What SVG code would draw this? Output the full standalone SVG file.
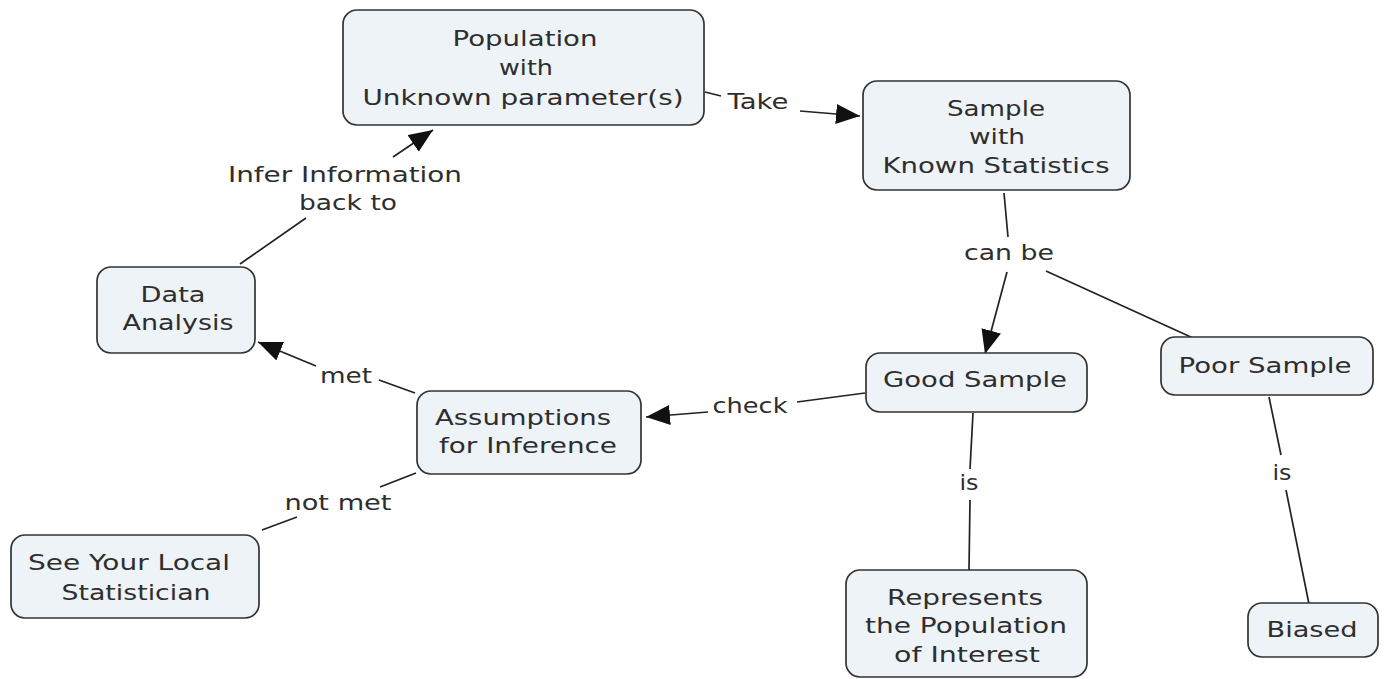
<svg xmlns="http://www.w3.org/2000/svg" width="1386" height="679" viewBox="0 0 1386 679">
<style>
.box{fill:#eef3f7;stroke:#333;stroke-width:1.7}
.t{font-family:"DejaVu Sans","Liberation Sans",sans-serif;font-size:22px;fill:#2e2e2e;text-anchor:middle}
.c{stroke:#222;stroke-width:1.7;fill:none}
.a{marker-end:url(#arr)}
</style>
<defs>
<marker id="arr" markerUnits="userSpaceOnUse" markerWidth="24" markerHeight="20" refX="24" refY="10" orient="auto" viewBox="0 0 24 20">
<path d="M0,0 L24,10 L0,20 z" fill="#111"/>
</marker>
</defs>
<rect width="1386" height="679" fill="#fff"/>
<g id="connectors">
<line class="c" x1="705" y1="92" x2="721" y2="96"/>
<line class="c a" x1="800" y1="111" x2="860" y2="116"/>
<line class="c" x1="1004" y1="193" x2="1008" y2="237"/>
<line class="c a" x1="1007" y1="272" x2="985" y2="354"/>
<line class="c" x1="1046" y1="271" x2="1193" y2="338"/>
<line class="c" x1="865" y1="393" x2="797" y2="402"/>
<line class="c a" x1="708" y1="412" x2="646" y2="417"/>
<line class="c" x1="973" y1="413" x2="970" y2="469"/>
<line class="c" x1="970" y1="500" x2="969" y2="570"/>
<line class="c" x1="1269" y1="397" x2="1281" y2="455"/>
<line class="c" x1="1286" y1="490" x2="1309" y2="604"/>
<line class="c" x1="415" y1="393" x2="379" y2="380"/>
<line class="c a" x1="316" y1="366" x2="258" y2="342"/>
<line class="c" x1="416" y1="473" x2="380" y2="487"/>
<line class="c" x1="297" y1="517" x2="262" y2="530"/>
<line class="c" x1="240" y1="264" x2="306" y2="218"/>
<line class="c a" x1="393" y1="157" x2="433" y2="130"/>
<text class="t" x="758" y="109" textLength="61" lengthAdjust="spacingAndGlyphs">Take</text>
<text class="t" x="1009" y="260" textLength="90" lengthAdjust="spacingAndGlyphs">can be</text>
<text class="t" x="750" y="413" textLength="75" lengthAdjust="spacingAndGlyphs">check</text>
<text class="t" x="969" y="490" textLength="19" lengthAdjust="spacingAndGlyphs">is</text>
<text class="t" x="1282" y="480" textLength="19" lengthAdjust="spacingAndGlyphs">is</text>
<text class="t" x="346" y="383" textLength="52" lengthAdjust="spacingAndGlyphs">met</text>
<text class="t" x="338" y="510" textLength="107" lengthAdjust="spacingAndGlyphs">not met</text>
<text class="t" x="345" y="182" textLength="234" lengthAdjust="spacingAndGlyphs">Infer Information</text>
<text class="t" x="348" y="210" textLength="98" lengthAdjust="spacingAndGlyphs">back to</text>
</g>
<g id="population">
<rect class="box" x="343" y="10" width="361" height="115" rx="14"/>
<text class="t" x="525" y="46" textLength="145" lengthAdjust="spacingAndGlyphs">Population</text>
<text class="t" x="526" y="75" textLength="54" lengthAdjust="spacingAndGlyphs">with</text>
<text class="t" x="523" y="105" textLength="321" lengthAdjust="spacingAndGlyphs">Unknown parameter(s)</text>
</g>
<g id="sample">
<rect class="box" x="863" y="81" width="267" height="109" rx="14"/>
<text class="t" x="996" y="116" textLength="98" lengthAdjust="spacingAndGlyphs">Sample</text>
<text class="t" x="997" y="144" textLength="56" lengthAdjust="spacingAndGlyphs">with</text>
<text class="t" x="996" y="173" textLength="227" lengthAdjust="spacingAndGlyphs">Known Statistics</text>
</g>
<g id="data-analysis">
<rect class="box" x="97" y="267" width="158" height="86" rx="14"/>
<text class="t" x="173" y="302" textLength="65" lengthAdjust="spacingAndGlyphs">Data</text>
<text class="t" x="178" y="330" textLength="111" lengthAdjust="spacingAndGlyphs">Analysis</text>
</g>
<g id="assumptions">
<rect class="box" x="417" y="391" width="224" height="83" rx="14"/>
<text class="t" x="523" y="425" textLength="176" lengthAdjust="spacingAndGlyphs">Assumptions</text>
<text class="t" x="528" y="453" textLength="178" lengthAdjust="spacingAndGlyphs">for Inference</text>
</g>
<g id="statistician">
<rect class="box" x="11" y="535" width="248" height="83" rx="14"/>
<text class="t" x="129" y="570" textLength="202" lengthAdjust="spacingAndGlyphs">See Your Local</text>
<text class="t" x="136" y="600" textLength="149" lengthAdjust="spacingAndGlyphs">Statistician</text>
</g>
<g id="good-sample">
<rect class="box" x="866" y="353" width="221" height="59" rx="14"/>
<text class="t" x="975" y="387" textLength="184" lengthAdjust="spacingAndGlyphs">Good Sample</text>
</g>
<g id="poor-sample">
<rect class="box" x="1161" y="337" width="212" height="58" rx="14"/>
<text class="t" x="1265" y="373" textLength="173" lengthAdjust="spacingAndGlyphs">Poor Sample</text>
</g>
<g id="represents">
<rect class="box" x="846" y="570" width="241" height="107" rx="14"/>
<text class="t" x="965" y="605" textLength="156" lengthAdjust="spacingAndGlyphs">Represents</text>
<text class="t" x="966" y="633" textLength="202" lengthAdjust="spacingAndGlyphs">the Population</text>
<text class="t" x="967" y="662" textLength="146" lengthAdjust="spacingAndGlyphs">of Interest</text>
</g>
<g id="biased">
<rect class="box" x="1248" y="603" width="130" height="54" rx="14"/>
<text class="t" x="1312" y="637" textLength="91" lengthAdjust="spacingAndGlyphs">Biased</text>
</g>
</svg>
